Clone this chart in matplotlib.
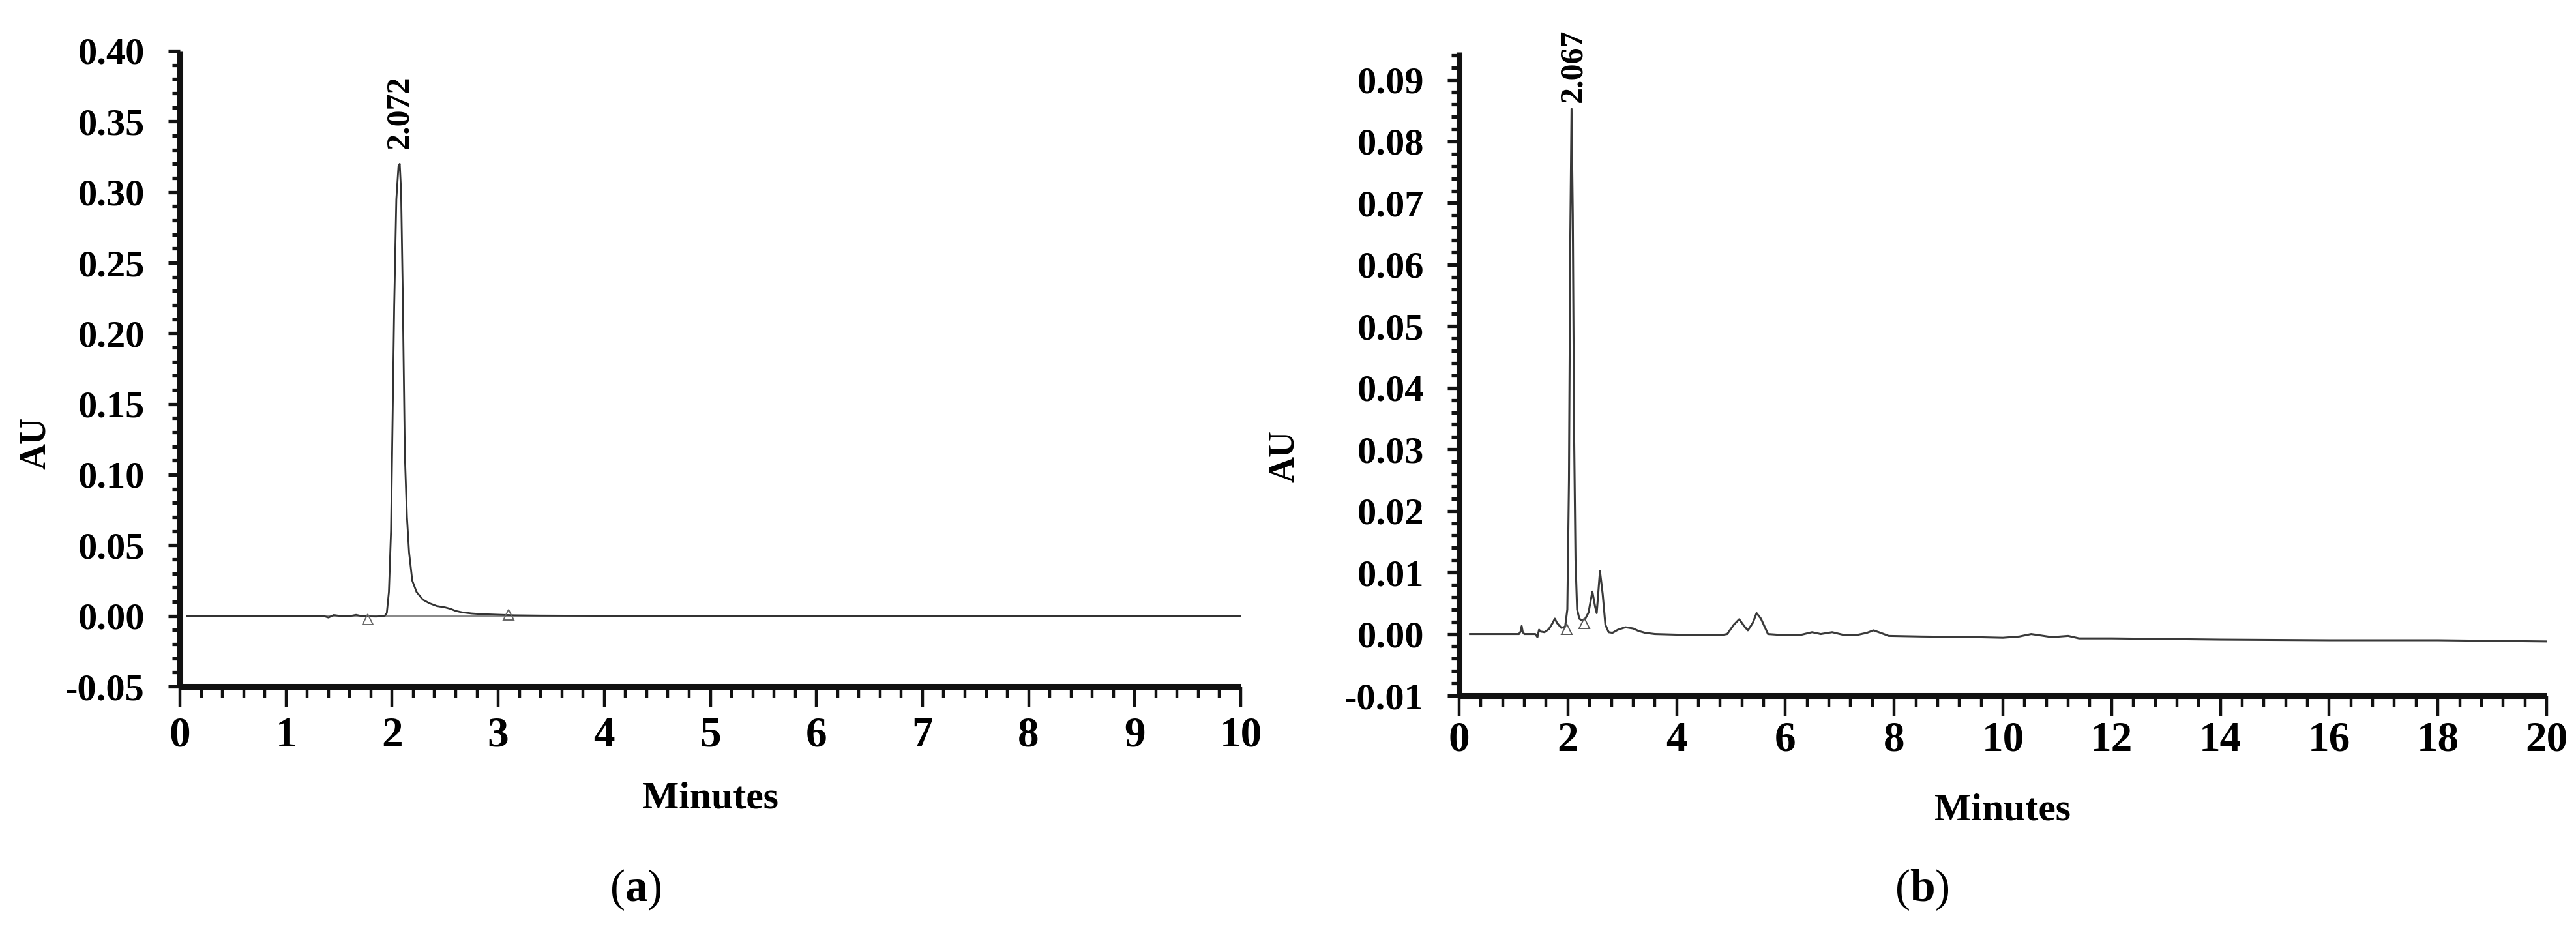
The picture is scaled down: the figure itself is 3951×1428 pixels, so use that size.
import matplotlib
matplotlib.use("Agg")
import matplotlib.pyplot as plt
from matplotlib.ticker import MultipleLocator, FormatStrFormatter

# ---------------- data ----------------
# Panel (a): chromatogram, 0-10 min
time_a = [0.07, 1.35, 1.40, 1.45, 1.52, 1.60, 1.66, 1.72, 1.85, 1.93,
          1.95, 1.97, 1.99, 2.00, 2.02, 2.04, 2.06, 2.072, 2.085, 2.10,
          2.12, 2.14, 2.16, 2.19, 2.23, 2.29, 2.35, 2.42, 2.50, 2.55,
          2.60, 2.66, 2.75, 2.85, 3.00, 3.15, 3.40, 4.00, 10.0]
au_a = [0.0, 0.0, -0.0012, 0.0006, -0.0002, -0.0002, 0.0007, -0.0003, -0.0005, 0.0,
        0.002, 0.017, 0.06, 0.115, 0.22, 0.295, 0.318, 0.320, 0.30, 0.23,
        0.115, 0.07, 0.045, 0.025, 0.017, 0.0115, 0.009, 0.007, 0.006, 0.005,
        0.0035, 0.0025, 0.0017, 0.0012, 0.0008, 0.0004, 0.0002, 0.0, -0.0003]
marks_a_t = [1.77, 3.10]
marks_a_v = [-0.0025, 0.0008]
peak_a_t, peak_a_label = 2.072, "2.072"

# Panel (b): chromatogram, 0-20 min
time_b = [0.20, 1.10, 1.13, 1.15, 1.17, 1.20, 1.40, 1.44, 1.47, 1.50,
          1.57, 1.65, 1.72, 1.76, 1.80, 1.88, 1.95, 1.99, 2.02, 2.045,
          2.067, 2.09, 2.115, 2.14, 2.17, 2.21, 2.26, 2.32, 2.38, 2.45,
          2.50, 2.53, 2.59, 2.64, 2.69, 2.75, 2.82, 2.92, 3.06, 3.20,
          3.30, 3.42, 3.60, 4.00, 4.80, 4.93, 5.05, 5.15, 5.25, 5.31,
          5.40, 5.47, 5.55, 5.68, 6.00, 6.30, 6.49, 6.65, 6.86, 7.05,
          7.29, 7.50, 7.62, 7.75, 7.90, 8.5, 9.5, 10.0, 10.3, 10.52,
          10.75, 10.9, 11.2, 11.4, 12.0, 13.0, 14.0, 16.0, 18.0, 19.0, 20.0]
au_b = [0.0, 0.0, 0.0004, 0.0013, 0.0003, 0.0, 0.0, -0.0005, 0.0007, 0.0004,
        0.0003, 0.0008, 0.0018, 0.0025, 0.0018, 0.0010, 0.0012, 0.004, 0.025, 0.065,
        0.0853, 0.068, 0.032, 0.012, 0.004, 0.0025, 0.0022, 0.0025, 0.0035, 0.0069,
        0.0045, 0.0034, 0.0102, 0.0065, 0.0015, 0.0003, 0.0002, 0.0007, 0.0011, 0.0009,
        0.0005, 0.0002, 0.0, -0.0001, -0.0002, 0.0, 0.0015, 0.0024, 0.0012, 0.0006,
        0.0018, 0.0034, 0.0025, 0.0, -0.0002, -0.0001, 0.0003, 0.0, 0.0003, -0.0001,
        -0.0002, 0.0002, 0.0006, 0.0002, -0.0003, -0.0004, -0.0005, -0.0006, -0.0004, 0.0,
        -0.0003, -0.0005, -0.0003, -0.0007, -0.0007, -0.0008, -0.0009, -0.0010, -0.0010, -0.0011, -0.0012]
marks_b_t = [1.98, 2.30]
marks_b_v = [0.0008, 0.0018]
peak_b_t, peak_b_label = 2.067, "2.067"

# ---------------- style ----------------
plt.rcParams["font.family"] = ["Liberation Serif", "DejaVu Serif"]
plt.rcParams["font.weight"] = "bold"
plt.rcParams["mathtext.fontset"] = "custom"
plt.rcParams["mathtext.rm"] = "Liberation Serif"
plt.rcParams["mathtext.bf"] = "Liberation Serif:bold"

W, H = 3951, 1428
fig = plt.figure(figsize=(W / 100, H / 100), dpi=100)
fig.patch.set_facecolor("white")


def style_axes(ax, xmaj, xmin, ymaj, ymin, yfmt, xpad):
    for s in ("top", "right"):
        ax.spines[s].set_visible(False)
    for s in ("left", "bottom"):
        ax.spines[s].set_linewidth(6.5)
        ax.spines[s].set_color("#111111")
        ax.spines[s].set_capstyle("butt")
    ax.xaxis.set_major_locator(MultipleLocator(xmaj))
    ax.xaxis.set_minor_locator(MultipleLocator(xmin))
    ax.yaxis.set_major_locator(MultipleLocator(ymaj))
    ax.yaxis.set_minor_locator(MultipleLocator(ymin))
    ax.yaxis.set_major_formatter(FormatStrFormatter(yfmt))
    ax.tick_params(axis="y", which="major", direction="out", length=13, width=3.8,
                   labelsize=42, pad=26, color="#111111")
    ax.tick_params(axis="y", which="minor", direction="out", length=9, width=3.8,
                   color="#111111")
    ax.tick_params(axis="x", which="major", direction="out", length=22, width=3.2,
                   labelsize=47, pad=xpad, color="#111111")
    ax.tick_params(axis="x", which="minor", direction="out", length=13, width=3.2,
                   color="#111111")
    for lab in ax.get_xticklabels() + ax.get_yticklabels():
        lab.set_fontweight("bold")


# Panel (a)
axA = fig.add_axes([276 / W, 1 - 1053 / H, (1903 - 276) / W, (1053 - 78) / H])
axA.set_xlim(0, 10)
axA.set_ylim(-0.05, 0.40)
axA.axhline(0.0, xmin=0.007, xmax=1.0, color="#8a8a8a", lw=1.6, zorder=1)
axA.plot(time_a, au_a, color="#333333", lw=2.0, zorder=2)
axA.plot(marks_a_t, marks_a_v, linestyle="none", marker="^", markersize=11,
         markerfacecolor="none", markeredgecolor="#666666", markeredgewidth=1.4)
axA.text(peak_a_t, 0.3307, peak_a_label, rotation=90, ha="center", va="bottom",
         fontsize=36, fontweight="bold")
style_axes(axA, 1, 0.2, 0.05, 0.01, "%.2f", 11)
axA.set_yticks([-0.05, 0.0, 0.05, 0.10, 0.15, 0.20, 0.25, 0.30, 0.35, 0.40])
axA.set_yticklabels(["-0.05", "0.00", "0.05", "0.10", "0.15", "0.20", "0.25",
                     "0.30", "0.35", "0.40"], fontweight="bold")

# Panel (b)
axB = fig.add_axes([2238 / W, 1 - 1067 / H, (3906 - 2238) / W, (1067 - 80) / H])
axB.set_xlim(0, 20)
axB.set_ylim(-0.01, 0.0945)
axB.plot(time_b, au_b, color="#3a3a3a", lw=2.2, zorder=2)
axB.plot(marks_b_t, marks_b_v, linestyle="none", marker="^", markersize=11,
         markerfacecolor="none", markeredgecolor="#555555", markeredgewidth=1.4)
axB.text(peak_b_t + 0.04, 0.0864, peak_b_label, rotation=90, ha="center", va="bottom",
         fontsize=36, fontweight="bold")
style_axes(axB, 2, 0.4, 0.01, 0.002, "%.2f", 6)
axB.set_yticks([-0.01, 0.0, 0.01, 0.02, 0.03, 0.04, 0.05, 0.06, 0.07, 0.08, 0.09])
axB.set_yticklabels(["-0.01", "0.00", "0.01", "0.02", "0.03", "0.04", "0.05",
                     "0.06", "0.07", "0.08", "0.09"], fontweight="bold")

# Axis titles and panel letters
fig.text(55 / W, 1 - 680 / H, "AU", rotation=90, ha="center", va="center",
         fontsize=40, fontweight="bold")
fig.text(1970 / W, 1 - 700 / H, "AU", rotation=90, ha="center", va="center",
         fontsize=40, fontweight="bold")
fig.text(1090 / W, 1 - 1225 / H, "Minutes", ha="center", va="center",
         fontsize=43, fontweight="bold")
fig.text(3071 / W, 1 - 1244 / H, "Minutes", ha="center", va="center",
         fontsize=43, fontweight="bold")
fig.text(975 / W, 1 - 1365 / H, r"($\mathbf{a}$)", ha="center", va="center",
         fontsize=50, fontweight="normal")
fig.text(2948 / W, 1 - 1365 / H, r"($\mathbf{b}$)", ha="center", va="center",
         fontsize=50, fontweight="normal")

fig.savefig("out.png", dpi=100, facecolor="white")
